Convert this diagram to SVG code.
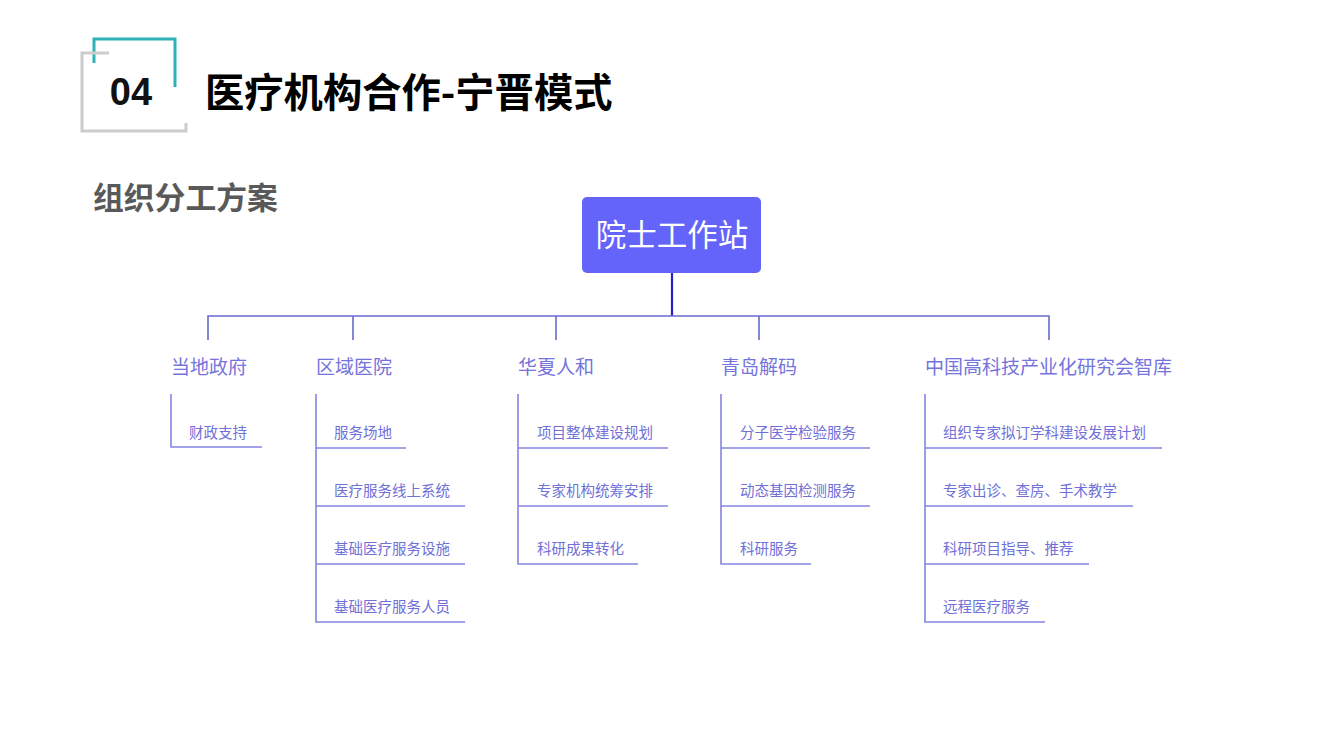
<svg xmlns="http://www.w3.org/2000/svg" width="1344" height="756" viewBox="0 0 1344 756">
<style>
.cjk{font-family:"Noto Sans CJK SC","Noto Sans",sans-serif}
.cat{font-size:19px;fill:#7474dc}
.sub{font-size:14.5px;fill:#7070d8}
.ln{stroke:#8585e2;stroke-width:1.6;fill:none}
.tr{stroke:#6a6ad0;stroke-width:1.6;fill:none}
</style>
<rect width="1344" height="756" fill="#ffffff"/>
<g id="header">
<path d="M94,63 V39 H175 V87" fill="none" stroke="#2cb3b8" stroke-width="3"/>
<path d="M109,53 H82 V131 H186 V123" fill="none" stroke="#cccccc" stroke-width="3"/>
<text x="131" y="105" text-anchor="middle" font-family="Liberation Sans,Arial,sans-serif" font-weight="bold" font-size="38" fill="#111">04</text>
<text x="205" y="107" class="cjk" font-weight="bold" font-size="39.3" fill="#000">医疗机构合作-宁晋模式</text>
<text x="93" y="209" class="cjk" font-weight="bold" font-size="30.8" fill="#595959">组织分工方案</text>
</g>
<g id="connectors">
<line x1="672" y1="273" x2="672" y2="316" stroke="#2a22c8" stroke-width="2.2"/>
<path class="tr" d="M208,340 V316 H1049 V340 M353,316 V340 M556,316 V340 M759,316 V340"/>
<path class="ln" d="M171,394 V447 H262"/>
<path class="ln" d="M316,394 V622 H465 M316,448 H406 M316,506 H465 M316,564 H465"/>
<path class="ln" d="M518,394 V564 H638 M518,448 H668 M518,506 H668"/>
<path class="ln" d="M721,394 V564 H811 M721,448 H870 M721,506 H870"/>
<path class="ln" d="M925,394 V622 H1045 M925,448 H1162 M925,506 H1133 M925,564 H1089"/>
</g>
<g id="root">
<rect x="582" y="197" width="179" height="76" rx="5" fill="#6464fa"/>
<text x="672" y="246" text-anchor="middle" class="cjk" font-size="30.5" fill="#ffffff">院士工作站</text>
</g>
<g id="gov" class="cjk">
<text x="171" y="374" class="cat">当地政府</text>
<text x="189" y="438" class="sub">财政支持</text>
</g>
<g id="hospital" class="cjk">
<text x="316" y="374" class="cat">区域医院</text>
<text x="334" y="438" class="sub">服务场地</text>
<text x="334" y="496" class="sub">医疗服务线上系统</text>
<text x="334" y="554" class="sub">基础医疗服务设施</text>
<text x="334" y="612" class="sub">基础医疗服务人员</text>
</g>
<g id="huaxia" class="cjk">
<text x="518" y="374" class="cat">华夏人和</text>
<text x="537" y="438" class="sub">项目整体建设规划</text>
<text x="537" y="496" class="sub">专家机构统筹安排</text>
<text x="537" y="554" class="sub">科研成果转化</text>
</g>
<g id="qingdao" class="cjk">
<text x="721" y="374" class="cat">青岛解码</text>
<text x="740" y="438" class="sub">分子医学检验服务</text>
<text x="740" y="496" class="sub">动态基因检测服务</text>
<text x="740" y="554" class="sub">科研服务</text>
</g>
<g id="thinktank" class="cjk">
<text x="925" y="374" class="cat">中国高科技产业化研究会智库</text>
<text x="943" y="438" class="sub">组织专家拟订学科建设发展计划</text>
<text x="943" y="496" class="sub">专家出诊、查房、手术教学</text>
<text x="943" y="554" class="sub">科研项目指导、推荐</text>
<text x="943" y="612" class="sub">远程医疗服务</text>
</g>
</svg>
